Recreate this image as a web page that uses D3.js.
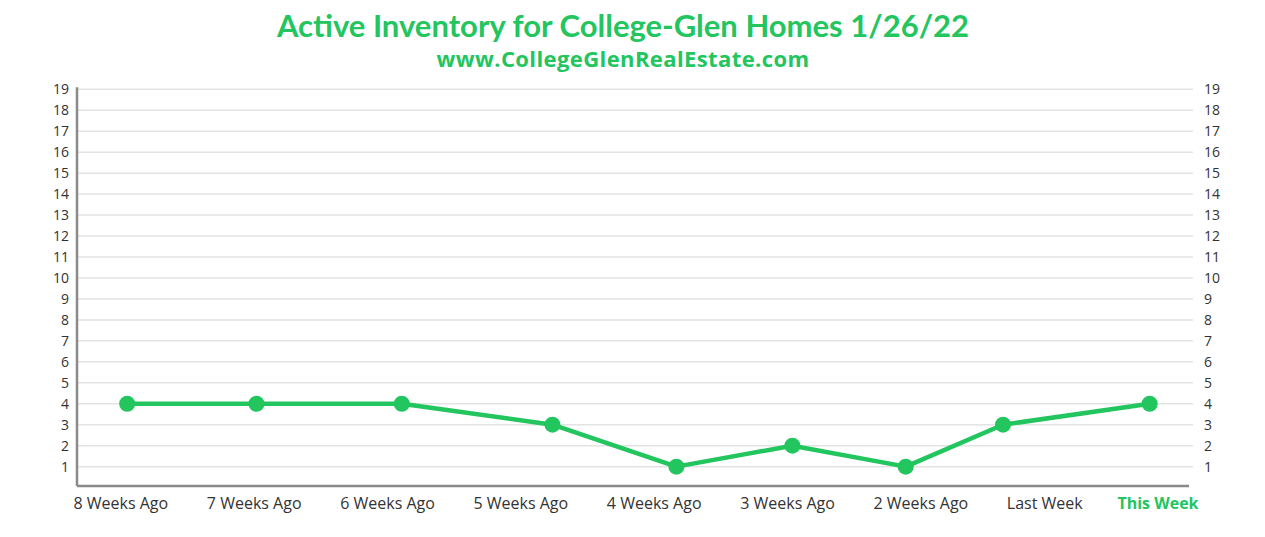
<!DOCTYPE html>
<html>
<head>
<meta charset="utf-8">
<script src="https://cdn.jsdelivr.net/npm/d3@7"></script>
<style>
  body { margin: 0; background: #fff; }
  svg { display: block; }
</style>
</head>
<body>
<script>
// data ____________________________________________________________________
var weekLabels = ["8 Weeks Ago", "7 Weeks Ago", "6 Weeks Ago", "5 Weeks Ago",
    "4 Weeks Ago", "3 Weeks Ago", "2 Weeks Ago", "Last Week", "This Week"];
// when each count was taken, in weeks from "8 Weeks Ago" (not exactly on the week)
var sampleWeeks = [0.05, 1.02, 2.11, 3.24, 4.17, 5.04, 5.89, 6.62, 7.72];
var activeCount = [4, 4, 4, 3, 1, 2, 1, 3, 4];
var yTicks = d3.range(1, 20);

var green = "#22c55e";

// layout __________________________________________________________________
var W = 1265, H = 537;
var margin = {top: 89.3, right: 72, bottom: 49.4, left: 77};
var width = W - margin.left - margin.right;
var height = H - margin.top - margin.bottom;

var svg = d3.select("body").append("svg")
    .attr("width", W)
    .attr("height", H);

// titles
svg.append("text")
    .attr("x", 623).attr("y", 37)
    .attr("text-anchor", "middle")
    .attr("font-family", "Lato, sans-serif")
    .attr("font-weight", "bold")
    .attr("font-size", "31px")
    .attr("fill", green)
    .text("Active Inventory for College-Glen Homes 1/26/22");

svg.append("text")
    .attr("x", 623).attr("y", 67)
    .attr("text-anchor", "middle")
    .attr("font-family", "'Open Sans', sans-serif")
    .attr("font-weight", "bold")
    .attr("font-size", "22px")
    .attr("letter-spacing", "0.4px")
    .attr("fill", green)
    .text("www.CollegeGlenRealEstate.com");

var g = svg.append("g")
    .attr("transform", "translate(" + margin.left + "," + margin.top + ")");

// scales __________________________________________________________________
var y = d3.scaleLinear()
    .domain([0, 19])
    .range([height, 0]);

var x = d3.scaleLinear()
    .domain([0, 8])
    .range([43.5, 1110]);

// labels sit left-aligned on an even step
var xLab = d3.scalePoint()
    .domain(weekLabels)
    .range([-4, 1062.7]);

// grid
g.append("g")
    .selectAll("line")
    .data(yTicks)
    .enter().append("line")
        .attr("x1", 0).attr("x2", width)
        .attr("y1", function(d) { return y(d); })
        .attr("y2", function(d) { return y(d); })
        .attr("stroke", "#e3e3e3")
        .attr("stroke-width", 1.5);

// left and right axes
var leftAxis = d3.axisLeft(y).tickValues(yTicks).tickSize(0).tickPadding(8);
var la = g.append("g").call(leftAxis);
la.select(".domain").remove();

var rightAxis = d3.axisRight(y).tickValues(yTicks).tickSize(0).tickPadding(15);
var ra = g.append("g").attr("transform", "translate(" + (width - 4) + ",0)").call(rightAxis);
ra.select(".domain").remove();

g.selectAll(".tick text")
    .attr("font-family", "'Open Sans', sans-serif")
    .attr("font-size", "14px")
    .attr("fill", "#333");

// axis lines
var base = y(0) - 1.5;
g.append("line")
    .attr("x1", 0).attr("x2", 0)
    .attr("y1", y(19) - 2).attr("y2", base)
    .attr("stroke", "#8a8a8a").attr("stroke-width", 2.5);
g.append("line")
    .attr("x1", 0).attr("x2", width - 4)
    .attr("y1", base).attr("y2", base)
    .attr("stroke", "#8a8a8a").attr("stroke-width", 2.5);

// bottom labels
var bottomAxis = d3.axisBottom(xLab).tickSize(0).tickPadding(12);
var ba = g.append("g")
    .attr("transform", "translate(0," + base + ")")
    .call(bottomAxis);
ba.select(".domain").remove();
ba.selectAll("text")
    .attr("text-anchor", "start")
    .attr("font-family", "'Open Sans', sans-serif")
    .attr("font-size", "16px")
    .attr("fill", "#333");
// last label is pulled in so it stays inside the plot
var last = weekLabels[weekLabels.length - 1];
ba.selectAll(".tick").filter(function(d) { return d === last; })
    .select("text")
    .attr("text-anchor", "end")
    .attr("dx", width + 5 - xLab(last))
    .attr("font-weight", "bold")
    .attr("fill", green);

// line and points _________________________________________________________
var pts = activeCount.map(function(v, i) { return {w: sampleWeeks[i], v: v}; });

g.append("path")
    .datum(pts)
    .attr("fill", "none")
    .attr("stroke", green)
    .attr("stroke-width", 4.5)
    .attr("stroke-linejoin", "round")
    .attr("d", d3.line()
        .x(function(d) { return x(d.w); })
        .y(function(d) { return y(d.v); }));

g.selectAll("circle")
    .data(pts)
    .enter().append("circle")
        .attr("cx", function(d) { return x(d.w); })
        .attr("cy", function(d) { return y(d.v); })
        .attr("r", 8)
        .attr("fill", green);
</script>
</body>
</html>
